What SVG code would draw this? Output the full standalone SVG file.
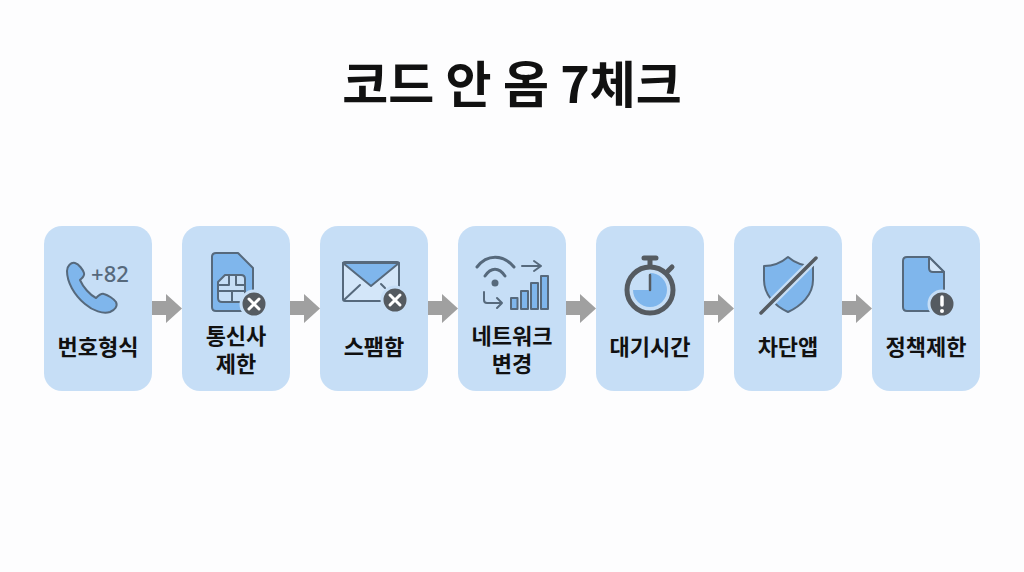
<svg xmlns="http://www.w3.org/2000/svg" width="1024" height="572" viewBox="0 0 1024 572">
<style>
.card{fill:#c6def6}
.t{font-family:"Noto Sans CJK KR","Noto Sans",sans-serif;font-weight:700;fill:#111;text-anchor:middle}
.l{font-size:22px}
.ln{fill:none;stroke:#56697c;stroke-width:2;stroke-linecap:round;stroke-linejoin:round}
.w{stroke-width:3}
.ic{fill:#7fb6ec;stroke:#56697c;stroke-width:2;stroke-linejoin:round}
.lt{fill:#d3e6f9;stroke:#56697c;stroke-width:2;stroke-linejoin:round}
.bd{fill:#555b61;stroke:#c6def6;stroke-width:3}
.x{fill:none;stroke:#fff;stroke-width:3;stroke-linecap:round}
.ar{fill:#a0a0a0}
</style>
<rect width="1024" height="572" fill="#fdfdfe"/>
<text id="title" class="t" x="512" y="103" font-size="50">코드 안 옴 7체크</text>
<g id="connectors">
<path class="ar" d="M152 301H166V294L182 308.500L166 323V315H152Z"/>
<path class="ar" d="M290 301H304V294L320 308.500L304 323V315H290Z"/>
<path class="ar" d="M428 301H442V294L458 308.500L442 323V315H428Z"/>
<path class="ar" d="M566 301H580V294L596 308.500L580 323V315H566Z"/>
<path class="ar" d="M704 301H718V294L734 308.500L718 323V315H704Z"/>
<path class="ar" d="M842 301H856V294L872 308.500L856 323V315H842Z"/>
</g>
<g id="n1">
<rect class="card" x="44" y="226" width="108" height="165" rx="18"/>
<path class="ic" d="M75 263C71 262 67 266 67 271C67 282 74 295 85 304C93 311 103 314 110 312C115 310 118 306 116 302C114 299 108 295 104 294C101 293 98 296 96 298C90 295 83 287 80 280C82 278 85 276 84 273C83 270 79 264 75 263Z"/>
<text x="110" y="282" font-family="Noto Sans,sans-serif" font-weight="500" font-size="22" fill="#56697c" text-anchor="middle">+82</text>
<text class="t l" x="98" y="355">번호형식</text>
</g>
<g id="n2">
<rect class="card" x="182" y="226" width="108" height="165" rx="18"/>
<path class="ic" d="M216 253H238L253 268V307Q253 311 249 311H216Q212 311 212 307V257Q212 253 216 253Z"/>
<path class="lt" d="M225 275H241Q245 275 245 279V298Q245 302 241 302H222Q218 302 218 298V282Z" style="fill:#c6def6"/>
<path class="ln" d="M229 275V285H218M236 275V285H245M218 291H245M232 291V302"/>
<circle class="bd" cx="254" cy="304" r="13"/>
<path class="x" d="M249 299L259 309M259 299L249 309"/>
<text class="t l" x="236"><tspan x="236" y="344">통신사</tspan><tspan x="236" y="372">제한</tspan></text>
</g>
<g id="n3">
<rect class="card" x="320" y="226" width="108" height="165" rx="18"/>
<rect class="lt" x="343" y="262" width="56" height="39" rx="2"/>
<path class="ic" d="M343 263H399L371 286Z"/>
<path class="ln" d="M344 300L360 285M381 284L385 288"/>
<circle class="bd" cx="395" cy="300" r="13"/>
<path class="x" d="M390 295L400 305M400 295L390 305"/>
<text class="t l" x="374" y="355">스팸함</text>
</g>
<g id="n4">
<rect class="card" x="458" y="226" width="108" height="165" rx="18"/>
<path class="ln w" d="M477 267C487 254 503 254 514 267M485 276C491 267 499 267 505 276"/>
<circle cx="495" cy="283" r="3.500" fill="#56697c"/>
<path class="ln" d="M522 266H541M534 261L541 266L534 271"/>
<path class="ln" d="M484 292V300Q484 303 487 303H502M497 298L502 303L497 308"/>
<rect class="ic" x="511" y="298" width="6.500" height="11"/>
<rect class="ic" x="521" y="291" width="7" height="18"/>
<rect class="ic" x="531" y="283" width="7" height="26"/>
<rect class="ic" x="541" y="276" width="7" height="33"/>
<text class="t l" x="512"><tspan x="512" y="344">네트워크</tspan><tspan x="512" y="372">변경</tspan></text>
</g>
<g id="n5">
<rect class="card" x="596" y="226" width="108" height="165" rx="18"/>
<path d="M644 258H656M650 258V266M668 271L672 267" fill="none" stroke="#555b61" stroke-width="5" stroke-linecap="round"/>
<circle cx="650" cy="290" r="23" fill="#c6def6" stroke="#555b61" stroke-width="5"/>
<path d="M650 290V273A17 17 0 1 1 633 290Z" fill="#7fb6ec"/>
<path d="M650 290V275" stroke="#555b61" stroke-width="2.500" stroke-linecap="round"/>
<text class="t l" x="650" y="355">대기시간</text>
</g>
<g id="n6">
<rect class="card" x="734" y="226" width="108" height="165" rx="18"/>
<path class="ic" d="M788 257C781 263 772 266 764 266V280C764 295 775 306 788 312C801 306 813 295 813 280V266C804 266 795 263 788 257Z"/>
<path d="M761 313L816 258" stroke="#c6def6" stroke-width="8"/>
<path d="M761 313L816 258" stroke="#555b61" stroke-width="3.500" stroke-linecap="round"/>
<text class="t l" x="788" y="355">차단앱</text>
</g>
<g id="n7">
<rect class="card" x="872" y="226" width="108" height="165" rx="18"/>
<path class="ic" d="M907 257H929L944 272V307Q944 311 940 311H907Q903 311 903 307V261Q903 257 907 257Z"/>
<path class="lt" d="M929 257V268Q929 272 933 272H944Z"/>
<circle class="bd" cx="942" cy="304" r="13"/>
<path d="M942 297V305" stroke="#fff" stroke-width="3.500" stroke-linecap="round"/>
<circle cx="942" cy="311" r="2" fill="#fff"/>
<text class="t l" x="926" y="355">정책제한</text>
</g>
</svg>
